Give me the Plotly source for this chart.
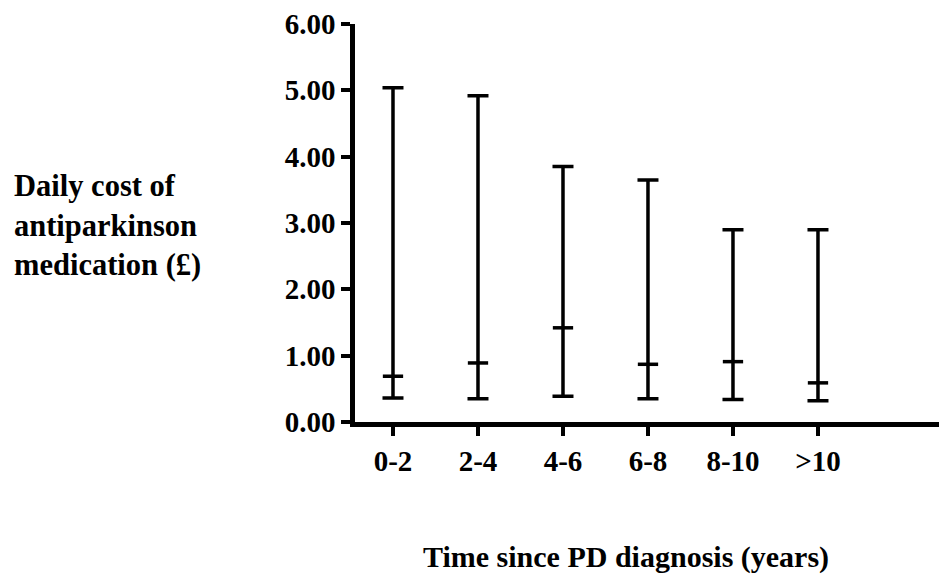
import plotly.graph_objects as go

categories = ["0-2", "2-4", "4-6", "6-8", "8-10", ">10"]
median = [0.69, 0.89, 1.42, 0.87, 0.91, 0.59]
low = [0.36, 0.35, 0.39, 0.35, 0.34, 0.32]
high = [5.04, 4.92, 3.85, 3.65, 2.90, 2.90]
yticks = [0, 1, 2, 3, 4, 5, 6]
ytick_labels = ["0.00", "1.00", "2.00", "3.00", "4.00", "5.00", "6.00"]

FONT = "Liberation Serif, Times New Roman, serif"
xpos = list(range(len(categories)))

# page body has an 8px default margin; compensate so the plot area
# lands at x=355..947, y=21..422 in the window
fig = go.Figure()
fig.add_trace(go.Scatter(
    x=xpos, y=median, mode="markers",
    marker=dict(symbol="line-ew", size=14.5, color="black",
                line=dict(color="black", width=3.5)),
    error_y=dict(type="data", symmetric=False,
                 array=[h - m for h, m in zip(high, median)],
                 arrayminus=[m - l for m, l in zip(median, low)],
                 color="black", thickness=3.5, width=10.5),
    showlegend=False, hoverinfo="skip",
))

tickfont = dict(family=FONT, size=29, color="black", weight="bold")
fig.update_layout(
    width=939, height=574,
    margin=dict(l=347, r=0, t=13, b=160),
    paper_bgcolor="white", plot_bgcolor="white",
    font=dict(family=FONT, size=29, color="black"),
    xaxis=dict(range=[-0.447, 6.518], tickmode="array", tickvals=xpos,
               ticktext=categories, showgrid=False, zeroline=False,
               showline=True, linecolor="black", linewidth=4.5,
               ticks="outside", ticklen=9, tickwidth=4, tickcolor="black",
               tickfont=tickfont, ticklabeloverflow="allow"),
    yaxis=dict(range=[0, 6], tickmode="array", tickvals=yticks,
               ticktext=ytick_labels, showgrid=False, zeroline=False,
               showline=True, linecolor="black", linewidth=4.5,
               ticks="outside", ticklen=9, tickwidth=4, tickcolor="black",
               tickfont=tickfont, ticklabeloverflow="allow"),
    annotations=[
        dict(text="<b>Daily cost of<br>antiparkinson<br>medication (£)</b>",
             xref="paper", yref="paper", x=(12 - 355) / 592, y=(422 - 224) / 401,
             xanchor="left", yanchor="middle", align="left", showarrow=False,
             font=dict(family=FONT, size=30.5, color="black")),
        dict(text="<b>Time since PD diagnosis (years)</b>",
             xref="paper", yref="paper", x=(626 - 355) / 592, y=(422 - 558) / 401,
             xanchor="center", yanchor="middle", showarrow=False,
             font=dict(family=FONT, size=30, color="black")),
    ],
)

fig.write_html("out.html")
